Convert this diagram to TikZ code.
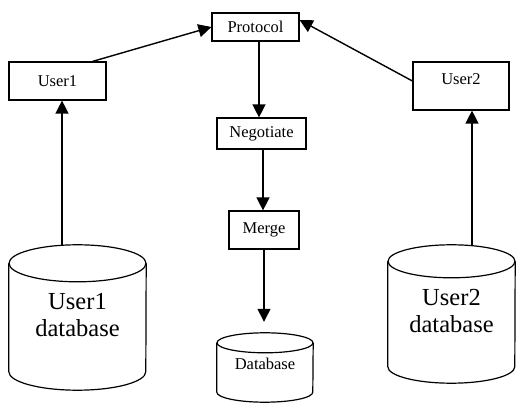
\documentclass[tikz,border=0pt]{standalone}
\usepackage{fontspec}
\setmainfont{Liberation Serif}
\usetikzlibrary{arrows.meta}

\begin{document}
\begin{tikzpicture}[x=1pt,y=-1pt,
  box/.style={draw,line width=1.2pt,inner sep=0pt,font=\fontsize{16.5}{18}\selectfont},
  dbase/.style={inner sep=0pt,align=center},
  dbline/.style={line width=1.2pt},
  arr/.style={line width=1.4pt,-{Triangle[length=13pt,width=13pt]}}]
\useasboundingbox (0,0) rectangle (517,403);
\node[box,minimum width=87pt,minimum height=28pt] (protocol) at (255.5,27) {Protocol};
\node[box,minimum width=97pt,minimum height=38pt] (user1) at (57.5,81) {User1};
\node[box,minimum width=96pt,minimum height=48pt,text height=16pt,text depth=18pt] (user2) at (461,86) {User2};
\node[box,minimum width=89pt,minimum height=31pt] (negotiate) at (261.5,133.5) {Negotiate};
\node[box,minimum width=70pt,minimum height=38pt] (merge) at (264,230) {Merge};
\node[dbase,minimum width=96pt,minimum height=69pt,text depth=8pt,font=\fontsize{16.5}{18}\selectfont] (database) at (265,367.5) {Database};
\node[dbase,minimum width=137pt,minimum height=145pt,text depth=6pt,font=\fontsize{24.5}{27}\selectfont] (user1db) at (77.5,317.5) {User1\\database};
\node[dbase,minimum width=127pt,minimum height=138pt,text depth=6pt,font=\fontsize{24.5}{27}\selectfont] (user2db) at (451.5,314) {User2\\database};
\foreach \n/\rx/\ry in {user1db/68.5/18.5, user2db/63.5/16.5, database/48/10}{
  \draw[dbline] ([yshift=-\ry pt]\n.north west) -- ([yshift=\ry pt]\n.south west)
    arc[start angle=180,end angle=0,x radius=\rx,y radius=\ry] -- ([yshift=-\ry pt]\n.north east);
  \draw[dbline] ([yshift=-\ry pt]\n.north) ellipse[x radius=\rx,y radius=\ry];
}
\draw[arr] ([xshift=-14pt]user1.north east) -- (protocol.west);
\draw[arr] ([yshift=5pt]user2.west) -- ([yshift=7pt]protocol.east);
\draw[arr] ([xshift=3.5pt]protocol.south) -- ([xshift=-2.5pt]negotiate.north);
\draw[arr] ([xshift=1.5pt]negotiate.south) -- ([xshift=-1pt]merge.north);
\draw[arr,shorten >=11pt] (merge.south) -- (merge.south |- database.north);
\draw[arr] ([xshift=-15.5pt]user1db.north) -- ([xshift=-15.5pt]user1db.north |- user1.south);
\draw[arr] ([xshift=20.5pt]user2db.north) -- ([xshift=20.5pt]user2db.north |- user2.south);
\end{tikzpicture}
\end{document}
